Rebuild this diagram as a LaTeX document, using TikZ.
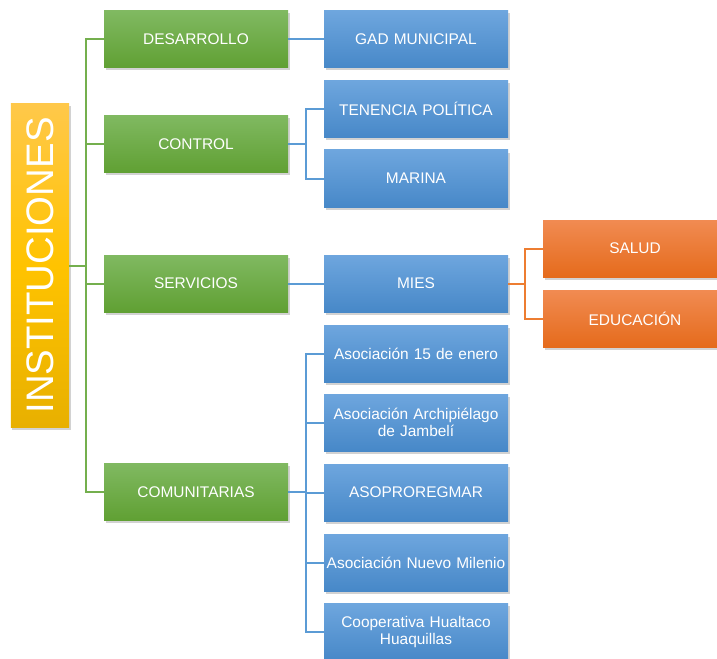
\documentclass[tikz,border=0pt]{standalone}
\usepackage{fontspec}
\setmainfont{Liberation Sans}
\usetikzlibrary{shadows}
\definecolor{gtop}{HTML}{80B961}
\definecolor{gbot}{HTML}{60A033}
\definecolor{gline}{HTML}{74AF4E}
\definecolor{btop}{HTML}{6EA6DE}
\definecolor{bbot}{HTML}{4788C8}
\definecolor{bline}{HTML}{5B9BD5}
\definecolor{otop}{HTML}{F18B52}
\definecolor{obot}{HTML}{E56B1C}
\definecolor{oline}{HTML}{ED7D31}
\definecolor{ytop}{HTML}{FFC84A}
\definecolor{ymid}{HTML}{FFC300}
\definecolor{ybot}{HTML}{E8B000}
\tikzset{
  box/.style={minimum width=184bp, minimum height=57bp, inner sep=1bp, text=white,
    font=\fontsize{15.5}{16.5}\selectfont, align=center, text width=182bp,
    drop shadow={shadow xshift=1.5bp, shadow yshift=-2.5bp, opacity=0.35}},
  gbox/.style={box, top color=gtop, bottom color=gbot},
  bbox/.style={box, top color=btop, bottom color=bbot},
  obox/.style={box, top color=otop, bottom color=obot},
  gcon/.style={draw=gline, line width=2bp},
  bcon/.style={draw=bline, line width=2bp},
  ocon/.style={draw=oline, line width=2bp},
}
\begin{document}
\begin{tikzpicture}[x=1bp, y=-1bp]
\useasboundingbox (0,0) rectangle (717,659);
\fill[white] (0,0) rectangle (717,659);
\coordinate (gt) at (86,0);
\coordinate (bt) at (306,0);
\coordinate (ot) at (525,0);
\node[minimum width=58bp, minimum height=323bp, inner sep=0pt,
  top color=ytop, bottom color=ybot, middle color=ymid,
  drop shadow={shadow xshift=1.5bp, shadow yshift=-2.5bp, opacity=0.35}] (inst) at (40,265.5) {};
\node[rotate=90, text=white, font=\fontsize{38.5}{40}\selectfont] (insttext) at (inst.center) {INSTITUCIONES};

\node[gbox] (des) at (196,39.5) {DESARROLLO};
\node[gbox] (ctl) at (196,144) {CONTROL};
\node[gbox] (ser) at (196,283.5) {SERVICIOS};
\node[gbox] (com) at (196,492) {COMUNITARIAS};

\node[bbox] (gad) at (416,39.5) {GAD MUNICIPAL};
\node[bbox] (ten) at (416,109) {TENENCIA POLÍTICA};
\node[bbox] (mar) at (416,178.5) {MARINA};
\node[bbox] (mies) at (416,283.5) {MIES};
\node[bbox] (a15) at (416,353.5) {Asociación 15 de enero};
\node[bbox] (arc) at (416,422.5) {Asociación Archipiélago\\de Jambelí};
\node[bbox] (aso) at (416,492.5) {ASOPROREGMAR};
\node[bbox] (nue) at (416,562.5) {Asociación Nuevo Milenio};
\node[bbox] (coo) at (416,632) {Cooperativa Hualtaco\\Huaquillas};

\node[obox] (sal) at (635,248.5) {SALUD};
\node[obox] (edu) at (635,318.5) {EDUCACIÓN};

\draw[gcon] (inst.east) -- (inst.east -| gt);
\draw[gcon] (des.west) -- (des.west -| gt) -- (com.west -| gt) -- (com.west);
\draw[gcon] (ctl.west) -- (ctl.west -| gt);
\draw[gcon] (ser.west) -- (ser.west -| gt);
\draw[bcon] (des.east) -- (gad.west);
\draw[bcon] (ctl.east) -- (ctl.east -| bt);
\draw[bcon] (ten.west) -- (ten.west -| bt) -- (mar.west -| bt) -- (mar.west);
\draw[bcon] (ser.east) -- (mies.west);
\draw[bcon] (com.east) -- (com.east -| bt);
\draw[bcon] (a15.west) -- (a15.west -| bt) -- (coo.west -| bt) -- (coo.west);
\draw[bcon] (arc.west) -- (arc.west -| bt);
\draw[bcon] (aso.west) -- (aso.west -| bt);
\draw[bcon] (nue.west) -- (nue.west -| bt);
\draw[ocon] (mies.east) -- (mies.east -| ot);
\draw[ocon] (sal.west) -- (sal.west -| ot) -- (edu.west -| ot) -- (edu.west);
\end{tikzpicture}
\end{document}
